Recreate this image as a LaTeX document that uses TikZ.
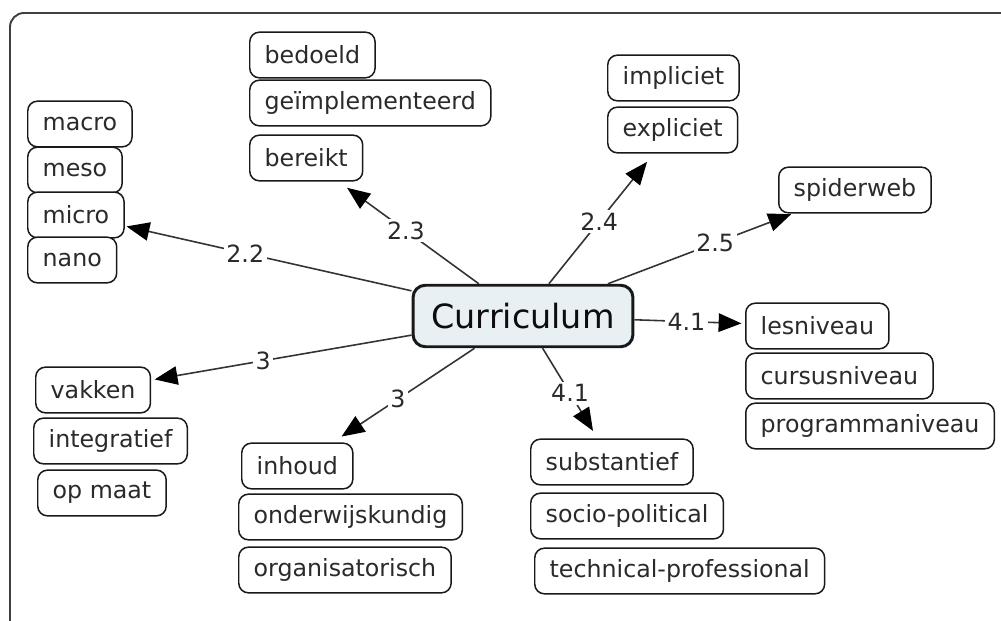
\documentclass[tikz,border=0pt]{standalone}
\usepackage{fontspec}
\setmainfont{DejaVu Sans}
\usepackage{xcolor}
\usepackage{tikz}
\usetikzlibrary{arrows.meta,positioning}

\definecolor{curbg}{HTML}{E8F0F4}
\definecolor{txt}{HTML}{2A2A2A}

\tikzset{
    concept/.style={draw=black!90, line width=0.85pt, rounded corners=5.5pt, fill=white, text=txt,
        font=\fontsize{13.5}{15}\selectfont, inner xsep=8.5pt, minimum height=26pt, anchor=west},
    topic/.style={draw=black!90, line width=1.7pt, rounded corners=7pt, fill=curbg, text=black!95,
        font=\fontsize{19}{22}\selectfont, inner xsep=10.5pt, minimum height=35pt},
    link/.style={draw=black!80, line width=0.9pt, -{Triangle[length=13pt,width=10.5pt,color=black]}},
    lbl/.style={fill=white, inner sep=1.5pt, text=txt, font=\fontsize{13.5}{15}\selectfont},
}

\begin{document}
\begin{tikzpicture}[x=0.02cm, y=-0.02cm]
    \useasboundingbox (0,0) rectangle (1001,621);
    \draw[line width=1.1pt, draw=black!75, rounded corners=8pt] (10,621) -- (10,13) -- (1001,13);

    \node[topic] (cur) at (523,316) {Curriculum};

    % levels
    \node[concept] (macro) at (27,124) {macro};
    \node[concept] (meso) at (27,170) {meso};
    \node[concept] (micro) at (27,215) {micro};
    \node[concept] (nano) at (27,260) {nano};

    \node[concept] (bedoeld) at (249,55) {bedoeld};
    \node[concept] (geimpl) at (249,103) {geïmplementeerd};
    \node[concept] (bereikt) at (249,158) {bereikt};

    \node[concept] (impliciet) at (607,78) {impliciet};
    \node[concept] (expliciet) at (607,130) {expliciet};

    \node[concept] (spider) at (778,190) {spiderweb};

    \node[concept] (les) at (745,326) {lesniveau};
    \node[concept] (cursus) at (745,376) {cursusniveau};
    \node[concept] (programma) at (745,426) {programmaniveau};

    \node[concept] (vakken) at (35,390) {vakken};
    \node[concept] (integratief) at (33,441) {integratief};
    \node[concept] (opmaat) at (37,493) {op maat};

    \node[concept] (inhoud) at (241,466) {inhoud};
    \node[concept] (onderwijs) at (238,517) {onderwijskundig};
    \node[concept] (organisatie) at (238,570) {organisatorisch};

    \node[concept] (substantief) at (530,462) {substantief};
    \node[concept] (socio) at (530,516) {socio-political};
    \node[concept] (technical) at (534,571) {technical-professional};

    % links
    \draw[link, shorten >=1pt] (cur) -- node[lbl, pos=0.58] {2.2} (micro);
    \draw[link, shorten >=6pt] (cur) -- node[lbl, pos=0.52] {2.3} (bereikt);
    \draw[link, shorten >=6pt] (cur) -- node[lbl, pos=0.48] {2.4} (expliciet);
    \draw[link, shorten >=1pt] (cur) -- node[lbl, pos=0.58] {2.5} (spider);
    \draw[link, shorten >=2pt] (cur) -- node[lbl, pos=0.47] {4.1} (les);
    \draw[link, shorten >=2pt] (cur) -- node[lbl, pos=0.57] {3} (vakken);
    \draw[link, shorten >=6pt] (cur) -- node[lbl, pos=0.54] {3} (inhoud);
    \draw[link, shorten >=5pt] (cur) -- node[lbl, pos=0.5] {4.1} (substantief);
\end{tikzpicture}
\end{document}
